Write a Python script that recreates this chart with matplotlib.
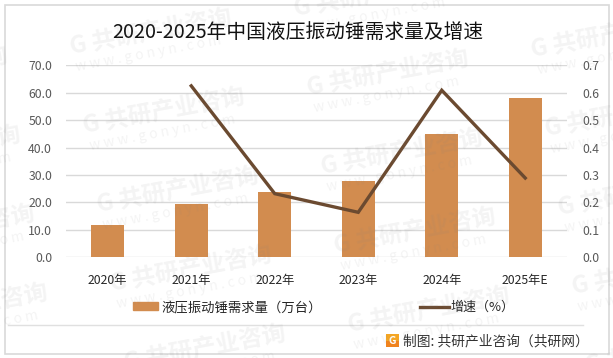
import matplotlib
matplotlib.use("Agg")
import matplotlib.pyplot as plt
from matplotlib.patches import Rectangle
from matplotlib.lines import Line2D

plt.rcParams['font.family'] = ['Noto Sans CJK SC', 'DejaVu Sans']

# datos
anios = ['2020年', '2021年', '2022年', '2023年', '2024年', '2025年E']
demanda = [11.8, 19.4, 23.8, 27.8, 45.0, 58.1]
anios_crec = ['2021年', '2022年', '2023年', '2024年', '2025年E']
crecimiento = [0.625, 0.232, 0.164, 0.609, 0.289]

W, H = 613, 358
fig = plt.figure(figsize=(W / 100, H / 100), dpi=100, facecolor='white')


def px(x, y):
    # pixeles de la imagen a coordenadas de figura
    return x / W, 1 - y / H


# ejes
x0, x1, y0, y1 = 66, 567, 65.3, 257.3
ax = fig.add_axes([x0 / W, 1 - y1 / H, (x1 - x0) / W, (y1 - y0) / H])
ax.set_facecolor('none')
pos = list(range(len(anios)))
ax.bar(pos, demanda, width=0.4, color='#D28C4F', zorder=2)
ax.set_xlim(-0.5, 5.5)
ax.set_ylim(0, 70)
ax.set_yticks(range(0, 71, 10))
ax.set_yticklabels([f'{v:.1f}' for v in range(0, 71, 10)], fontsize=8.8, color='#595959')
ax.set_xticks(pos)
ax.set_xticklabels(anios, fontsize=8.8, color='#262626')
ax.tick_params(axis='both', length=0)
ax.tick_params(axis='x', pad=12)
ax.tick_params(axis='y', pad=10)
ax.grid(axis='y', color='#D9D9D9', lw=1, zorder=1)
ax.set_axisbelow(True)
for s in ax.spines.values():
    s.set_visible(False)

# eje secundario
ax2 = ax.twinx()
ax2.plot([anios.index(a) for a in anios_crec], crecimiento, color='#6B4A30', lw=2.4,
         solid_joinstyle='miter', zorder=3)
ax2.set_ylim(0, 0.7)
ax2.set_yticks([i / 10 for i in range(8)])
ax2.set_yticklabels([f'{i / 10:.1f}' for i in range(8)], fontsize=8.8, color='#595959')
ax2.tick_params(axis='y', length=0, pad=11)
for s in ax2.spines.values():
    s.set_visible(False)

# titulo
fig.text(*px(298, 32), '2020-2025年中国液压振动锤需求量及增速', fontsize=14.2, color='#111111',
         ha='center', va='center')

# leyenda a mano
fig.add_artist(Rectangle(px(133, 310), 25 / W, 8 / H, transform=fig.transFigure, color='#D28C4F'))
fig.text(*px(161, 307), '液压振动锤需求量（万台）', fontsize=9.6, color='#262626', va='center')
fig.add_artist(Line2D([420 / W, 449 / W], [1 - 306.5 / H] * 2, transform=fig.transFigure,
                      color='#6B4A30', lw=2.4))
fig.text(*px(450, 307), '增速（%）', fontsize=9.4, color='#262626', va='center')

# marco y pie
fig.add_artist(Rectangle(px(4.5, 354), 604.5 / W, 349 / H, transform=fig.transFigure,
                         fill=False, ec='#D9D9D9', lw=1.2))
fig.add_artist(Line2D([8 / W, 583 / W], [1 - 325 / H] * 2, transform=fig.transFigure,
                      color='#E0E0E0', lw=1))
fig.add_artist(Rectangle(px(386, 347), 12.5 / W, 6.5 / H, transform=fig.transFigure, color='#F0831E', lw=0))
fig.add_artist(Rectangle(px(386, 340.5), 12.5 / W, 6.5 / H, transform=fig.transFigure, color='#F5A623', lw=0))
fig.text(*px(392.2, 340.5), 'G', fontsize=7.5, fontweight='bold', color='white', ha='center', va='center')
fig.text(*px(403, 341), '制图: 共研产业咨询（共研网）', fontsize=9.9, color='#333333', va='center')

# marcas de agua
for i in range(-1, 4):
    for j in range(-2, 6):
        wx = 85 + i * 224 + j * 13.5
        wy = 133 - i * 38 + j * 79
        if wx < -200 or wx > W or wy < -30 or wy > H + 40:
            continue
        fig.text(*px(wx, wy), 'G 共研产业咨询', fontsize=17, fontweight='black', color='#808080',
                 alpha=0.09, rotation=10.5, rotation_mode='anchor', ha='left', va='baseline', zorder=10)
        fig.text(*px(wx + 5, wy + 17), 'w w w . g o n y n . c o m', fontsize=10, color='#808080',
                 alpha=0.09, rotation=10.5, rotation_mode='anchor', ha='left', va='baseline', zorder=10)

fig.savefig('out.png', dpi=100)
